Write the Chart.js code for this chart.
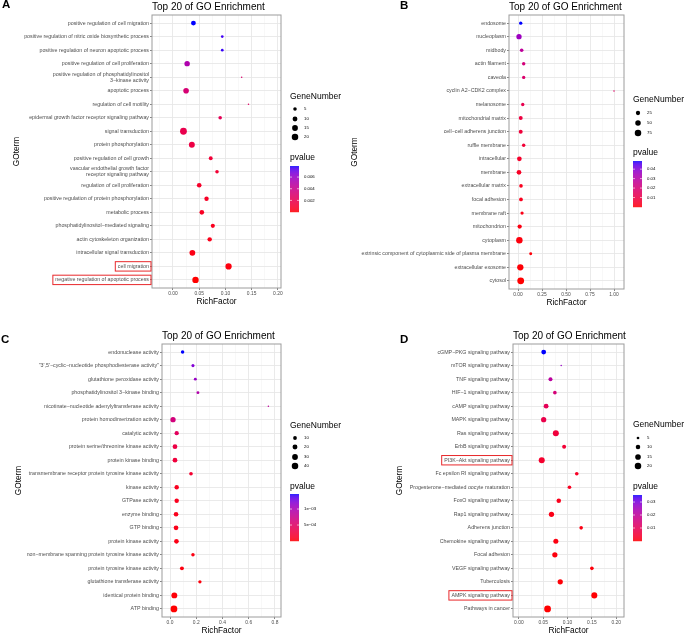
<!DOCTYPE html>
<html>
<head>
<meta charset="utf-8">
<script src="https://cdn.jsdelivr.net/npm/chart.js@4.4.1/dist/chart.umd.min.js"></script>
<style>
  body { margin: 0; background: #fff; }
  #wrap { position: relative; width: 685px; height: 634px; }
  canvas { position: absolute; }
</style>
</head>
<body>
<div id="wrap">
  <canvas id="chartA" width="342" height="317" style="left:0px;top:0px"></canvas>
  <canvas id="chartB" width="342" height="317" style="left:342px;top:0px"></canvas>
  <canvas id="chartC" width="342" height="317" style="left:0px;top:317px"></canvas>
  <canvas id="chartD" width="343" height="317" style="left:342px;top:317px"></canvas>
</div>
<script>
const FONT = "'Liberation Sans', Arial, Helvetica, sans-serif";

// ---- panel A: biological process ----
const termsA = [
  "positive regulation of cell migration",
  "positive regulation of nitric oxide biosynthetic process",
  "positive regulation of neuron apoptotic process",
  "positive regulation of cell proliferation",
  ["positive regulation of phosphatidylinositol", "3\u2212kinase activity"],
  "apoptotic process",
  "regulation of cell motility",
  "epidermal growth factor receptor signaling pathway",
  "signal transduction",
  "protein phosphorylation",
  "positive regulation of cell growth",
  ["vascular endothelial growth factor", "receptor signaling pathway"],
  "regulation of cell proliferation",
  "positive regulation of protein phosphorylation",
  "metabolic process",
  "phosphatidylinositol\u2212mediated signaling",
  "actin cytoskeleton organization",
  "intracellular signal transduction",
  "cell migration",
  "negative regulation of apoptotic process"
];
const richA = [0.039, 0.094, 0.094, 0.027, 0.131, 0.025, 0.144, 0.090, 0.020, 0.036,
               0.072, 0.084, 0.050, 0.064, 0.055, 0.076, 0.070, 0.037, 0.106, 0.043];
const genesA = [10, 3, 3, 13, 2, 14, 2, 5, 22, 16, 6, 5, 9, 8, 9, 7, 8, 15, 18, 19];
const pvalsA = [0.0079, 0.0076, 0.0077, 0.0052, 0.0030, 0.0032, 0.0027, 0.0022, 0.0019, 0.0016,
                0.0012, 0.0011, 0.0008, 0.0007, 0.0006, 0.0005, 0.0004, 0.0003, 0.0002, 0.00001];
const xTicksA = [0, 0.05, 0.10, 0.15, 0.20];
const xLabelsA = ["0.00", "0.05", "0.10", "0.15", "0.20"];
const sizeBreaksA = [5, 10, 15, 20];
const pBreaksA = [0.006, 0.004, 0.002];
const pLabelsA = ["0.006", "0.004", "0.002"];

// ---- panel B: cellular component ----
const termsB = [
  "endosome", "nucleoplasm", "midbody", "actin filament", "caveola",
  "cyclin A2\u2212CDK2 complex", "melanosome", "mitochondrial matrix",
  "cell\u2212cell adherens junction", "ruffle membrane", "intracellular", "membrane",
  "extracellular matrix", "focal adhesion", "membrane raft", "mitochondrion", "cytoplasm",
  "extrinsic component of cytoplasmic side of plasma membrane",
  "extracellular exosome", "cytosol"
];
const richB = [0.028, 0.010, 0.038, 0.059, 0.059, 1.0, 0.049, 0.028, 0.028, 0.059,
               0.014, 0.010, 0.031, 0.031, 0.042, 0.017, 0.014, 0.132, 0.024, 0.028];
const genesB = [12, 45, 15, 13, 12, 2, 12, 20, 20, 13, 32, 32, 15, 17, 11, 25, 75, 8, 70, 85];
const pvalsB = [0.0486, 0.036, 0.028, 0.021, 0.018, 0.016, 0.012, 0.009, 0.008, 0.007,
                0.005, 0.004, 0.003, 0.003, 0.002, 0.0015, 0.001, 0.0008, 0.0005, 0.00001];
const xTicksB = [0, 0.25, 0.50, 0.75, 1.00];
const xLabelsB = ["0.00", "0.25", "0.50", "0.75", "1.00"];
const sizeBreaksB = [25, 50, 75];
const pBreaksB = [0.04, 0.03, 0.02, 0.01];
const pLabelsB = ["0.04", "0.03", "0.02", "0.01"];

// ---- panel C: molecular function ----
const termsC = [
  "endonuclease activity",
  "\"3',5'\u2212cyclic\u2212nucleotide phosphodiesterase activity\"",
  "glutathione peroxidase activity",
  "phosphatidylinositol 3\u2212kinase binding",
  "nicotinate\u2212nucleotide adenylyltransferase activity",
  "protein homodimerization activity",
  "catalytic activity",
  "protein serine/threonine kinase activity",
  "protein kinase binding",
  "transmembrane receptor protein tyrosine kinase activity",
  "kinase activity",
  "GTPase activity",
  "enzyme binding",
  "GTP binding",
  "protein kinase activity",
  "non\u2212membrane spanning protein tyrosine kinase activity",
  "protein tyrosine kinase activity",
  "glutathione transferase activity",
  "identical protein binding",
  "ATP binding"
];
const richC = [0.096, 0.175, 0.193, 0.213, 0.75, 0.023, 0.051, 0.038, 0.038, 0.16,
               0.051, 0.051, 0.046, 0.046, 0.049, 0.175, 0.091, 0.228, 0.033, 0.030];
const genesC = [8, 6, 5, 5, 2, 24, 14, 18, 18, 9, 15, 15, 17, 18, 17, 8, 11, 7, 32, 45];
const pvalsC = [0.00147, 0.00122, 0.00112, 0.00095, 0.00085, 0.00065, 0.00045, 0.00030, 0.00025, 0.00018,
                0.00010, 0.00009, 0.00008, 0.00007, 0.00006, 0.00005, 0.00004, 0.00003, 0.00002, 0.000001];
const xTicksC = [0, 0.2, 0.4, 0.6, 0.8];
const xLabelsC = ["0.0", "0.2", "0.4", "0.6", "0.8"];
const sizeBreaksC = [10, 20, 30, 40];
const pBreaksC = [0.001, 0.0005];
const pLabelsC = ["1e\u221203", "5e\u221204"];

// ---- panel D: KEGG pathways ----
const termsD = [
  "cGMP\u2212PKG signaling pathway", "mTOR signaling pathway", "TNF signaling pathway",
  "HIF\u22121 signaling pathway", "cAMP signaling pathway", "MAPK signaling pathway",
  "Ras signaling pathway", "ErbB signaling pathway", "PI3K\u2212Akt signaling pathway",
  "Fc epsilon RI signaling pathway", "Progesterone\u2212mediated oocyte maturation",
  "FoxO signaling pathway", "Rap1 signaling pathway", "Adherens junction",
  "Chemokine signaling pathway", "Focal adhesion", "VEGF signaling pathway",
  "Tuberculosis", "AMPK signaling pathway", "Pathways in cancer"
];
const richD = [0.051, 0.087, 0.065, 0.074, 0.056, 0.051, 0.076, 0.093, 0.047, 0.119,
               0.104, 0.082, 0.067, 0.128, 0.076, 0.074, 0.150, 0.085, 0.155, 0.059];
const genesD = [11, 4, 8, 7, 11, 13, 17, 8, 17, 7, 7, 10, 13, 7, 12, 13, 7, 13, 17, 22];
const pvalsD = [0.0354, 0.027, 0.021, 0.015, 0.010, 0.008, 0.006, 0.005, 0.004, 0.003,
                0.0025, 0.002, 0.0015, 0.0012, 0.001, 0.0008, 0.0006, 0.0004, 0.0002, 0.000001];
const xTicksD = [0, 0.05, 0.10, 0.15, 0.20];
const xLabelsD = ["0.00", "0.05", "0.10", "0.15", "0.20"];
const sizeBreaksD = [5, 10, 15, 20];
const pBreaksD = [0.03, 0.02, 0.01];
const pLabelsD = ["0.03", "0.02", "0.01"];

// red -> blue in CIELAB, like ggplot's scale_colour_gradient
function rgbToLab(r, g, b) {
  const lin = c => { c /= 255; return c <= 0.04045 ? c / 12.92 : Math.pow((c + 0.055) / 1.055, 2.4); };
  const R = lin(r), G = lin(g), B = lin(b);
  const X = (0.4124 * R + 0.3576 * G + 0.1805 * B) / 0.95047;
  const Y = 0.2126 * R + 0.7152 * G + 0.0722 * B;
  const Z = (0.0193 * R + 0.1192 * G + 0.9505 * B) / 1.08883;
  const f = t => t > 0.008856 ? Math.cbrt(t) : 7.787 * t + 16 / 116;
  return [116 * f(Y) - 16, 500 * (f(X) - f(Y)), 200 * (f(Y) - f(Z))];
}
function labToRgb(L, a, b) {
  const fy = (L + 16) / 116, fx = fy + a / 500, fz = fy - b / 200;
  const inv = t => t * t * t > 0.008856 ? t * t * t : (t - 16 / 116) / 7.787;
  const X = inv(fx) * 0.95047, Y = inv(fy), Z = inv(fz) * 1.08883;
  const gam = c => {
    c = c <= 0.0031308 ? 12.92 * c : 1.055 * Math.pow(c, 1 / 2.4) - 0.055;
    return Math.round(Math.min(1, Math.max(0, c)) * 255);
  };
  return 'rgb(' + gam(3.2406 * X - 1.5372 * Y - 0.4986 * Z) + ',' +
         gam(-0.9689 * X + 1.8758 * Y + 0.0415 * Z) + ',' +
         gam(0.0557 * X - 0.2040 * Y + 1.0570 * Z) + ')';
}
const LOW = rgbToLab(255, 0, 0), HIGH = rgbToLab(0, 0, 255);
function labMix(t) {
  t = Math.min(1, Math.max(0, t));
  return labToRgb(LOW[0] + (HIGH[0] - LOW[0]) * t, LOW[1] + (HIGH[1] - LOW[1]) * t, LOW[2] + (HIGH[2] - LOW[2]) * t);
}

const panels = [
  { id: 'chartA', letter: 'A', terms: termsA, rich: richA, genes: genesA, pvals: pvalsA,
    xMin: -0.040, xMax: 0.206, xTicks: xTicksA, xLabels: xLabelsA,
    sizeBreaks: sizeBreaksA, pBreaks: pBreaksA, pLabels: pLabelsA,
    w: 342, h: 317, area: { left: 152, top: 15, right: 281, bottom: 288 },
    letterX: 2, letterY: 5, gotermX: 17, boxed: [18, 19],
    legend: { x: 290, sizeTitleY: 97, sizeY: [109, 119, 128, 137], pTitleY: 158, barTop: 166, barBottom: 212 } },
  { id: 'chartB', letter: 'B', terms: termsB, rich: richB, genes: genesB, pvals: pvalsB,
    xMin: -0.094, xMax: 1.104, xTicks: xTicksB, xLabels: xLabelsB,
    sizeBreaks: sizeBreaksB, pBreaks: pBreaksB, pLabels: pLabelsB,
    w: 342, h: 317, area: { left: 167, top: 15, right: 282, bottom: 289 },
    letterX: 58, letterY: 5.5, gotermX: 13, boxed: [],
    legend: { x: 291, sizeTitleY: 100, sizeY: [113, 123, 133], pTitleY: 153, barTop: 161, barBottom: 207 } },
  { id: 'chartC', letter: 'C', terms: termsC, rich: richC, genes: genesC, pvals: pvalsC,
    xMin: -0.061, xMax: 0.846, xTicks: xTicksC, xLabels: xLabelsC,
    sizeBreaks: sizeBreaksC, pBreaks: pBreaksC, pLabels: pLabelsC,
    w: 342, h: 317, area: { left: 162, top: 27, right: 281, bottom: 300 },
    letterX: 1, letterY: 23, gotermX: 19, boxed: [],
    legend: { x: 290, sizeTitleY: 109, sizeY: [121, 130, 140, 149], pTitleY: 170, barTop: 177, barBottom: 224 } },
  { id: 'chartD', letter: 'D', terms: termsD, rich: richD, genes: genesD, pvals: pvalsD,
    xMin: -0.012, xMax: 0.216, xTicks: xTicksD, xLabels: xLabelsD,
    sizeBreaks: sizeBreaksD, pBreaks: pBreaksD, pLabels: pLabelsD,
    w: 343, h: 317, area: { left: 171, top: 27, right: 282, bottom: 300 },
    letterX: 58, letterY: 23, gotermX: 58, boxed: [8, 18],
    legend: { x: 291, sizeTitleY: 108, sizeY: [121, 130, 140, 149], pTitleY: 170, barTop: 178, barBottom: 224 } }
];

function decorPlugin(P, size, lo, hi) {
  return {
    id: 'decor' + P.letter,
    afterDraw(chart) {
      const ctx = chart.ctx, a = chart.chartArea;
      ctx.save();
      // panel border
      ctx.strokeStyle = '#9C9C9C';
      ctx.lineWidth = 1;
      ctx.strokeRect(a.left, a.top, a.right - a.left, a.bottom - a.top);

      ctx.fillStyle = '#000';
      ctx.textBaseline = 'middle';
      ctx.textAlign = 'left';
      ctx.font = 'bold 11.5px ' + FONT;
      ctx.fillText(P.letter, P.letterX, P.letterY);
      ctx.font = '10px ' + FONT;
      ctx.fillText('Top 20 of GO Enrichment', a.left, a.top - 8);
      ctx.font = '8.3px ' + FONT;
      ctx.textAlign = 'center';
      ctx.fillText('RichFactor', (a.left + a.right) / 2, a.bottom + 14);
      ctx.save();
      ctx.translate(P.gotermX, (a.top + a.bottom) / 2);
      ctx.rotate(-Math.PI / 2);
      ctx.fillText('GOterm', 0, 0);
      ctx.restore();

      // red boxes round highlighted terms
      ctx.font = '5.3px ' + FONT;
      ctx.strokeStyle = '#E8282B';
      ctx.lineWidth = 1;
      P.boxed.forEach(i => {
        const y = chart.scales.y.getPixelForValue(i);
        const w = ctx.measureText(P.terms[i]).width;
        const x1 = a.left - 1, x0 = a.left - 3 - w - 2.5;
        ctx.strokeRect(x0, y - 4.7, x1 - x0, 9.4);
      });

      // GeneNumber legend
      const L = P.legend;
      ctx.textAlign = 'left';
      ctx.fillStyle = '#000';
      ctx.font = '8.5px ' + FONT;
      ctx.fillText('GeneNumber', L.x, L.sizeTitleY);
      P.sizeBreaks.forEach((n, k) => {
        ctx.beginPath();
        ctx.arc(L.x + 5, L.sizeY[k], size(n), 0, 2 * Math.PI);
        ctx.fill();
        ctx.font = '4.3px ' + FONT;
        ctx.fillText(String(n), L.x + 14, L.sizeY[k]);
      });

      // pvalue colour bar
      ctx.font = '8.5px ' + FONT;
      ctx.fillText('pvalue', L.x, L.pTitleY);
      const bt = L.barTop, bb = L.barBottom, bw = 9;
      for (let y = bt; y < bb; y += 0.5) {
        ctx.fillStyle = labMix((bb - y) / (bb - bt));
        ctx.fillRect(L.x, y, bw, 0.7);
      }
      P.pBreaks.forEach((p, k) => {
        const y = bb - (p - lo) / (hi - lo) * (bb - bt);
        ctx.strokeStyle = '#fff';
        ctx.lineWidth = 0.6;
        ctx.beginPath();
        ctx.moveTo(L.x, y); ctx.lineTo(L.x + 2, y);
        ctx.moveTo(L.x + bw - 2, y); ctx.lineTo(L.x + bw, y);
        ctx.stroke();
        ctx.fillStyle = '#000';
        ctx.font = '4.3px ' + FONT;
        ctx.fillText(P.pLabels[k], L.x + 14, y);
      });
      ctx.restore();
    }
  };
}

function buildChart(P) {
  const gLo = Math.min(...P.genes), gHi = Math.max(...P.genes);
  const size = n => (1.5 + 5.3 * Math.sqrt(Math.max(0, n - gLo) / (gHi - gLo))) / 2;
  const lo = Math.min(...P.pvals), hi = Math.max(...P.pvals);
  const colour = p => labMix((p - lo) / (hi - lo));

  const step = P.xTicks[1] - P.xTicks[0];
  const minor = [];
  for (let v = P.xTicks[0] - step / 2; v <= P.xMax; v += step) {
    if (v >= P.xMin) minor.push(v);
  }
  const isMajor = v => P.xTicks.some(t => Math.abs(t - v) < 1e-9);

  const points = P.terms.map((t, i) => ({ x: P.rich[i], y: i, r: size(P.genes[i]) }));

  return new Chart(document.getElementById(P.id), {
    type: 'bubble',
    data: {
      datasets: [{
        data: points,
        backgroundColor: P.pvals.map(colour),
        borderWidth: 0,
        hoverRadius: 0
      }]
    },
    options: {
      responsive: false,
      animation: false,
      events: [],
      layout: { padding: { left: 0, top: P.area.top, right: P.w - P.area.right, bottom: 0 } },
      plugins: { legend: { display: false }, tooltip: { enabled: false } },
      scales: {
        x: {
          type: 'linear', min: P.xMin, max: P.xMax, bounds: 'data',
          afterBuildTicks: s => {
            s.ticks = [...P.xTicks, ...minor].sort((a, b) => a - b).map(v => ({ value: v }));
          },
          afterFit: s => { s.height = P.h - P.area.bottom; s.paddingLeft = 0; s.paddingRight = 0; },
          grid: {
            color: c => isMajor(c.tick.value) ? '#E8E8E8' : '#F1F1F1',
            lineWidth: c => isMajor(c.tick.value) ? 0.9 : 0.5,
            tickLength: 2,
            tickColor: c => isMajor(c.tick.value) ? '#333333' : 'rgba(0,0,0,0)',
            tickWidth: 0.6
          },
          border: { display: false },
          ticks: {
            autoSkip: false, maxRotation: 0, padding: 1, color: '#4D4D4D',
            font: { family: FONT, size: 4.9 },
            callback: v => {
              const k = P.xTicks.findIndex(t => Math.abs(t - v) < 1e-9);
              return k < 0 ? '' : P.xLabels[k];
            }
          }
        },
        y: {
          type: 'linear', reverse: true, min: -0.6, max: P.terms.length - 0.4, bounds: 'data',
          afterBuildTicks: s => { s.ticks = P.terms.map((_, i) => ({ value: i })); },
          afterFit: s => { s.width = P.area.left; s.paddingTop = 0; s.paddingBottom = 0; },
          grid: { color: '#E8E8E8', lineWidth: 0.9, tickLength: 2, tickColor: '#333333', tickWidth: 0.6 },
          border: { display: false },
          ticks: {
            autoSkip: false, padding: 1, color: '#4D4D4D',
            font: { family: FONT, size: 5.3, lineHeight: 1.15 },
            callback: (v, i) => P.terms[i]
          }
        }
      }
    },
    plugins: [decorPlugin(P, size, lo, hi)]
  });
}

panels.forEach(buildChart);
</script>
</body>
</html>
